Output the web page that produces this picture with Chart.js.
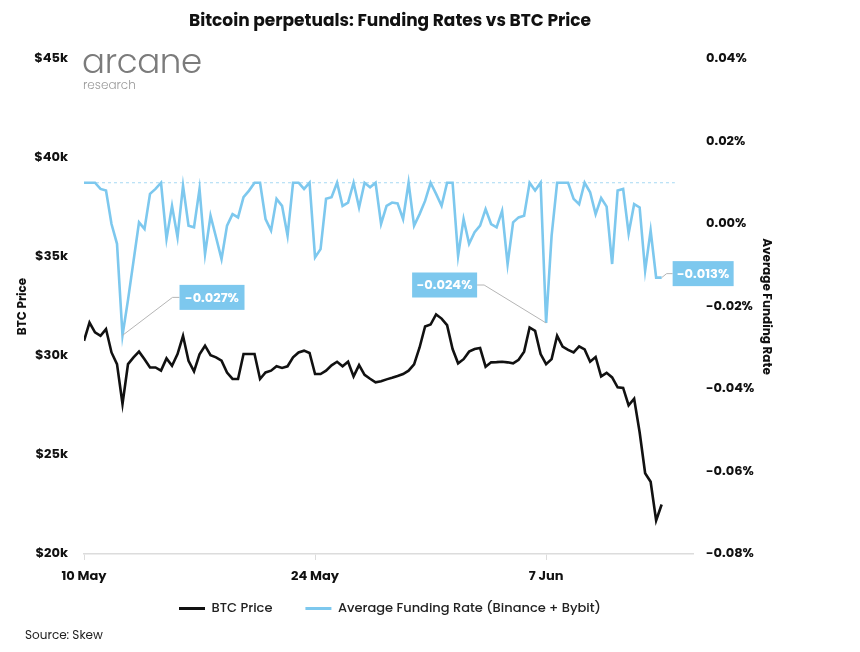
<!DOCTYPE html>
<html>
<head>
<meta charset="utf-8">
<script src="https://cdn.jsdelivr.net/npm/chart.js@4.4.0/dist/chart.umd.min.js"></script>
<style>
  body { margin: 0; background: #fff; }
  #wrap { position: relative; width: 860px; height: 652px; }
  .logo { position: absolute; left: 82px; top: 44px; font-family: Poppins, Lato, sans-serif; font-weight: 300; font-size: 34px; color: #7b7b7b; line-height: 1; letter-spacing: -0.3px; }
  .logo-sub { position: absolute; left: 83px; top: 76px; font-family: Poppins, Lato, sans-serif; font-weight: 300; font-size: 12px; color: #9a9a9a; }
  .source { position: absolute; left: 25px; top: 626px; font-family: Poppins, Inter, sans-serif; font-size: 12px; color: #222; }
</style>
</head>
<body>
<div id="wrap">
  <canvas id="grafico" width="860" height="652"></canvas>
  <div class="logo">arcane</div>
  <div class="logo-sub">research</div>
  <div class="source">Source: Skew</div>
</div>
<script>
// 8-hourly points from 10 May to 14 Jun
const hoursPerPoint = 8

const btcPrice = [
  30770, 31690, 31190, 31020, 31360, 30180, 29590, 27580, 29590, 29930,
  30220, 29840, 29420, 29420, 29260, 29880, 29510, 30100, 31020, 29760,
  29220, 30080, 30520, 30040, 29930, 29760, 29160, 28840, 28840, 30100,
  30100, 30100, 28840, 29170, 29260, 29480, 29400, 29480, 29930, 30180,
  30270, 30150, 29090, 29090, 29260, 29530, 29710, 29480, 29710, 28970,
  29540, 29050, 28850, 28670, 28720, 28820, 28900, 28990, 29090, 29260,
  29580, 30430, 31490, 31590, 32100, 31890, 31560, 30350, 29630, 29840,
  30220, 30350, 30400, 29460, 29680, 29690, 29710, 29680, 29630, 29810,
  30220, 31440, 31270, 30100, 29590, 29840, 31020, 30480, 30310, 30180,
  30490, 30330, 29710, 29950, 28970, 29150, 28920, 28420, 28390, 27510,
  27840, 26150, 24080, 23650, 21690, 22500
]

const fundingRate = [
  0.010, 0.010, 0.010, 0.0085, 0.0081, 0.0000, -0.0048, -0.027, -0.0184, -0.0090,
  0.0004, -0.0012, 0.0073, 0.0085, 0.010, -0.0036, 0.0044, -0.0032, 0.0093, -0.0004,
  -0.0008, 0.0085, -0.0073, 0.0020, -0.0032, -0.0085, -0.0004, 0.0024, 0.0016, 0.0065,
  0.0081, 0.010, 0.010, 0.0012, -0.0016, 0.0061, 0.0044, -0.0028, 0.010, 0.010,
  0.0085, 0.010, -0.0081, -0.0061, 0.0061, 0.0065, 0.010, 0.0044, 0.0052, 0.010,
  0.0040, 0.010, 0.0089, 0.010, 0.0000, 0.0044, 0.0052, 0.0050, 0.0012, 0.010,
  -0.0004, 0.0024, 0.0056, 0.010, 0.0073, 0.0044, 0.010, 0.010, -0.0077, 0.0012,
  -0.0048, -0.0020, -0.0004, 0.0036, 0.0000, -0.0008, 0.0032, -0.0097, 0.0004, 0.0016,
  0.0020, 0.010, 0.0081, 0.010, -0.024, -0.0028, 0.010, 0.010, 0.010, 0.0061,
  0.0048, 0.010, 0.0077, 0.0024, 0.0063, 0.0042, -0.0097, 0.0081, 0.0085, -0.0023,
  0.0048, 0.0040, -0.0113, -0.0016, -0.013, -0.013
]

// x tick labels (days after 10 May)
const tickDays = [0, 14, 28]
const tickLabels = ['10 May', '24 May', '7 Jun']

const fundingCap = 0.01
const calloutIndex = [7, 84, 105]

const fonte = 'Poppins, Inter, "Open Sans", sans-serif'
const azul = '#7dc8ee'

function pontos(valores) {
  return valores.map((v, i) => ({ x: i * hoursPerPoint / 24, y: v }))
}

// dashed cap line + callout boxes, and legend pulled up under the axis labels
const extras = {
  id: 'extras',
  afterLayout(chart) {
    const lg = chart.legend
    const sobe = lg.top - (chart.chartArea.bottom + 15)
    lg.top -= sobe
    lg.bottom -= sobe
  },
  beforeDatasetsDraw(chart) {
    const { ctx, chartArea, scales } = chart
    const y = scales.yRate.getPixelForValue(fundingCap)
    ctx.save()
    ctx.strokeStyle = '#a6d9f3'
    ctx.lineWidth = 1
    ctx.setLineDash([3, 3])
    ctx.beginPath()
    ctx.moveTo(chartArea.left, y)
    ctx.lineTo(scales.x.getPixelForValue(35.8), y)
    ctx.stroke()
    ctx.restore()
  },
  afterDatasetsDraw(chart) {
    const { ctx, scales } = chart
    const desenho = [
      { dx: 50, dy: -38, lado: 1, gap: 7, w: 65 },
      { dx: -62, dy: -38, lado: -1, gap: 7, w: 65 },
      { dx: 5, dy: -4, lado: 1, gap: 6, w: 61 }
    ]
    calloutIndex.forEach((idx, k) => {
      const px = scales.x.getPixelForValue(idx * hoursPerPoint / 24)
      const py = scales.yRate.getPixelForValue(fundingRate[idx])
      const d = desenho[k]
      const ex = px + d.dx, ey = py + d.dy
      const w = d.w, h = 25
      const bx = d.lado > 0 ? ex + d.gap : ex - d.gap - w
      ctx.save()
      ctx.strokeStyle = '#b5b5b5'
      ctx.lineWidth = 1
      ctx.beginPath()
      ctx.moveTo(px, py)
      ctx.lineTo(ex, ey)
      ctx.lineTo(d.lado > 0 ? bx : bx + w, ey)
      ctx.stroke()
      ctx.fillStyle = azul
      ctx.fillRect(bx, ey - h / 2, w, h)
      ctx.fillStyle = '#fff'
      ctx.font = 'bold 13px ' + fonte
      ctx.textAlign = 'center'
      ctx.textBaseline = 'middle'
      ctx.fillText(fundingRate[idx].toFixed(3) + '%', bx + w / 2, ey + 1)
      ctx.restore()
    })
  }
}

const chart = new Chart(document.getElementById('grafico'), {
  type: 'line',
  data: {
    datasets: [{
      label: 'BTC Price',
      data: pontos(btcPrice),
      yAxisID: 'yPrice',
      borderColor: '#111',
      backgroundColor: '#111',
      borderWidth: 2.6,
      pointRadius: 0,
      tension: 0
    }, {
      label: 'Average Funding Rate (Binance + Bybit)',
      data: pontos(fundingRate),
      yAxisID: 'yRate',
      borderColor: azul,
      backgroundColor: azul,
      borderWidth: 2.6,
      pointRadius: 0,
      tension: 0
    }]
  },
  options: {
    responsive: false,
    animation: false,
    layout: { padding: { left: 0, right: 80, top: 0, bottom: 8 } },
    plugins: {
      title: {
        display: true,
        text: 'Bitcoin perpetuals: Funding Rates vs BTC Price',
        color: '#111',
        font: { family: fonte, size: 17, weight: 'bold' },
        padding: { top: 12, bottom: 26.6 }
      },
      legend: {
        position: 'bottom',
        labels: {
          color: '#222',
          font: { family: fonte, size: 13, weight: '500' },
          boxWidth: 26,
          boxHeight: 3,
          padding: 33,
          generateLabels: (c) => Chart.defaults.plugins.legend.labels.generateLabels(c).map(l => ({ ...l, lineWidth: 0 }))
        }
      },
      tooltip: { enabled: false }
    },
    scales: {
      x: {
        type: 'linear',
        min: 0,
        max: 36.9,
        afterBuildTicks: (s) => { s.ticks = tickDays.map(v => ({ value: v })) },
        afterFit: (s) => { s.height = 34 },
        ticks: {
          autoSkip: false,
          callback: (v, i) => tickLabels[i],
          color: '#111',
          font: { family: fonte, size: 13, weight: 'bold' },
          padding: 9,
          maxRotation: 0
        },
        grid: { drawOnChartArea: false, tickLength: 6, color: '#dcdcdc' },
        border: { color: '#dcdcdc', width: 1.5 }
      },
      yPrice: {
        position: 'left',
        min: 20000,
        max: 45000,
        afterFit: (s) => { s.width = 84 },
        ticks: {
          stepSize: 5000,
          callback: (v) => '$' + v / 1000 + 'k',
          color: '#111',
          font: { family: fonte, size: 13, weight: 'bold' },
          padding: 8
        },
        grid: { display: false },
        border: { display: false },
        title: {
          display: true,
          text: 'BTC Price',
          color: '#111',
          font: { family: fonte, size: 12, weight: 'bold' },
          padding: { top: 16 }
        }
      },
      yRate: {
        position: 'right',
        min: -0.08,
        max: 0.04,
        afterFit: (s) => { s.width = 87 },
        ticks: {
          stepSize: 0.02,
          callback: (v) => v.toFixed(2) + '%',
          color: '#111',
          font: { family: fonte, size: 13, weight: 'bold' },
          padding: 5
        },
        grid: { display: false },
        border: { display: false },
        title: {
          display: true,
          text: 'Average Funding Rate',
          color: '#111',
          font: { family: fonte, size: 12, weight: 'bold' },
          padding: { top: 7 }
        }
      }
    }
  },
  plugins: [extras]
})
</script>
</body>
</html>
